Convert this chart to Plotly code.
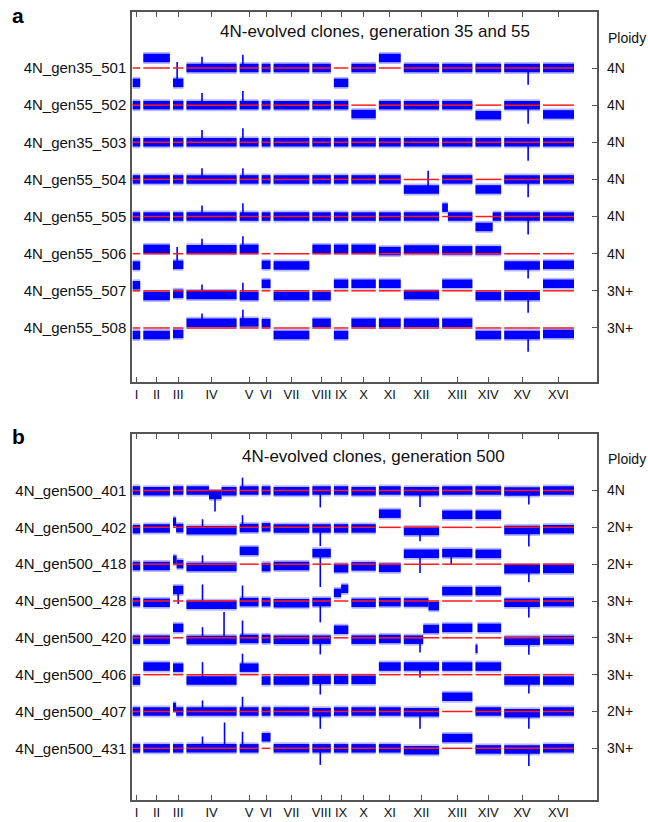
import plotly.graph_objects as go

W, H = 648, 822

chrom_names = ["I", "II", "III", "IV", "V", "VI", "VII", "VIII",
               "IX", "X", "XI", "XII", "XIII", "XIV", "XV", "XVI"]
chrom_len_kb = [230, 813, 317, 1532, 577, 270, 1091, 563,
                440, 746, 667, 1078, 924, 784, 1091, 948]
GAP_KB = 95

# ---------------- panel a ----------------
clones_a = ["4N_gen35_501", "4N_gen55_502", "4N_gen35_503", "4N_gen55_504",
            "4N_gen55_505", "4N_gen55_506", "4N_gen55_507", "4N_gen55_508"]
ploidy_a = ["4N", "4N", "4N", "4N", "4N", "4N", "3N+", "3N+"]
#            I      II     III    IV     V      VI     VII    VIII   IX     X      XI     XII    XIII   XIV    XV     XVI
levels_a = [
    [-0.40, 0.27, -0.40, 0.00, 0.00, 0.00, 0.00, 0.00, -0.40, 0.00, 0.27, 0.00, 0.00, 0.00, 0.00, 0.00],
    [0.00, 0.00, 0.00, 0.00, 0.00, 0.00, 0.00, 0.00, 0.00, -0.24, 0.00, 0.00, 0.00, -0.27, 0.00, -0.25],
    [0.00] * 16,
    [0.00, 0.00, 0.00, 0.00, 0.00, 0.00, 0.00, 0.00, 0.00, 0.00, 0.00, -0.27, 0.00, -0.27, 0.00, 0.00],
    [0.00] * 16,
    [-0.32, 0.13, -0.30, 0.12, 0.13, -0.30, -0.32, 0.13, 0.13, 0.13, 0.07, 0.11, 0.09, 0.09, -0.32, -0.30],
    [0.15, -0.14, -0.08, -0.11, -0.14, 0.19, -0.14, -0.14, 0.19, 0.19, 0.19, -0.11, 0.19, -0.14, -0.14, 0.19],
    [-0.19, -0.19, -0.16, 0.14, 0.15, 0.13, -0.19, 0.14, -0.19, 0.14, 0.14, 0.14, 0.14, -0.19, -0.19, -0.16],
]
# partial-chromosome segments: (row, chrom, start fraction, end fraction, level)
subsegs_a = [
    (4, 12, 0.00, 0.19, 0.24), (4, 12, 0.19, 1.00, 0.00),
    (4, 13, 0.00, 0.67, -0.28), (4, 13, 0.67, 1.00, 0.00),
]
# spikes: (row, chrom, fraction, height relative to segment level)
spikes_a = [
    (0, 2, 0.40, 0.56), (5, 2, 0.40, 0.48), (3, 11, 0.69, 0.50),
    (0, 14, 0.67, -0.45), (1, 14, 0.67, -0.50), (2, 14, 0.67, -0.50), (3, 14, 0.67, -0.48),
    (4, 14, 0.67, -0.48), (5, 14, 0.67, -0.35), (6, 14, 0.67, -0.45), (7, 14, 0.67, -0.45),
    (0, 4, 0.17, 0.36), (1, 4, 0.17, 0.38), (2, 4, 0.17, 0.38), (3, 4, 0.17, 0.30),
    (4, 4, 0.17, 0.36), (5, 4, 0.17, 0.34), (6, 4, 0.17, 0.36), (7, 4, 0.17, 0.34),
    (0, 3, 0.31, 0.30), (1, 3, 0.31, 0.33), (2, 3, 0.31, 0.33), (3, 3, 0.31, 0.30),
    (4, 3, 0.31, 0.30), (5, 3, 0.31, 0.28), (6, 3, 0.31, 0.28), (7, 3, 0.31, 0.25),
]

# ---------------- panel b ----------------
clones_b = ["4N_gen500_401", "4N_gen500_402", "4N_gen500_418", "4N_gen500_428",
            "4N_gen500_420", "4N_gen500_406", "4N_gen500_407", "4N_gen500_431"]
ploidy_b = ["4N", "2N+", "2N+", "3N+", "3N+", "3N+", "2N+", "3N+"]
levels_b = [
    [0.00, -0.02, 0.00, -0.02, 0.00, 0.00, -0.02, 0.00, 0.00, -0.02, 0.00, -0.02, 0.00, 0.00, -0.03, 0.00],
    [-0.05, -0.03, 0.00, -0.08, -0.02, 0.00, -0.03, -0.03, -0.03, -0.03, 0.37, -0.10, 0.34, 0.34, -0.07, -0.05],
    [-0.05, -0.05, 0.00, -0.08, 0.36, -0.08, -0.05, 0.30, -0.11, -0.06, -0.10, 0.28, 0.30, 0.28, -0.14, -0.13],
    [-0.03, -0.05, 0.30, -0.10, -0.03, -0.03, -0.06, -0.03, 0.28, -0.05, -0.03, -0.06, 0.27, 0.27, -0.05, -0.03],
    [-0.05, -0.05, 0.27, -0.06, -0.03, -0.03, -0.05, -0.05, 0.22, -0.05, -0.03, 0.00, 0.27, 0.27, -0.08, -0.06],
    [-0.16, 0.22, 0.19, -0.16, 0.19, -0.16, -0.16, -0.14, -0.14, -0.14, 0.22, 0.22, 0.22, 0.22, -0.16, -0.16],
    [0.00, 0.00, 0.00, 0.00, 0.00, 0.00, 0.00, -0.02, 0.00, 0.00, 0.00, -0.02, 0.40, 0.00, -0.05, 0.00],
    [0.00, 0.00, 0.00, 0.00, 0.00, 0.30, 0.00, 0.00, 0.00, 0.00, 0.00, -0.05, 0.28, -0.03, -0.03, 0.00],
]
subsegs_b = [
    (0, 3, 0.00, 0.45, 0.00), (0, 3, 0.45, 0.70, -0.12), (0, 3, 0.70, 1.00, -0.02),
    (1, 2, 0.00, 0.30, 0.15), (1, 2, 0.30, 1.00, -0.02),
    (2, 2, 0.00, 0.35, 0.12), (2, 2, 0.35, 1.00, 0.00),
    (3, 8, 0.00, 0.50, 0.22), (3, 8, 0.50, 1.00, 0.33),
    (3, 11, 0.00, 0.70, -0.04), (3, 11, 0.70, 1.00, -0.14),
    (4, 11, 0.00, 0.55, -0.05), (4, 11, 0.55, 1.00, 0.24),
    (4, 13, 0.00, 0.08, -0.30), (4, 13, 0.08, 1.00, 0.27),
    (6, 2, 0.00, 0.30, 0.12), (6, 2, 0.30, 1.00, 0.00),
]
spikes_b = [
    (0, 3, 0.57, -0.45), (0, 7, 0.43, -0.46), (0, 11, 0.46, -0.43), (0, 14, 0.69, -0.35), (0, 4, 0.15, 0.35),
    (1, 7, 0.43, -0.48), (1, 14, 0.69, -0.45), (1, 4, 0.15, 0.35), (1, 3, 0.32, 0.30), (1, 11, 0.46, -0.28),
    (2, 7, 0.43, -0.92), (2, 11, 0.46, -0.52), (2, 14, 0.69, -0.35), (2, 3, 0.32, 0.32), (2, 12, 0.30, -0.30),
    (3, 3, 0.32, 0.55), (3, 4, 0.15, 0.45), (3, 7, 0.43, -0.55), (3, 14, 0.69, -0.40), (3, 2, 0.50, -0.38),
    (4, 3, 0.75, 0.76), (4, 3, 0.32, 0.35), (4, 4, 0.15, 0.50), (4, 7, 0.43, -0.40), (4, 14, 0.69, -0.38),
    (4, 11, 0.46, -0.35),
    (5, 3, 0.32, 0.50), (5, 4, 0.15, 0.38), (5, 7, 0.43, -0.40), (5, 14, 0.69, -0.35), (5, 11, 0.46, -0.30),
    (6, 4, 0.15, 0.40), (6, 7, 0.43, -0.45), (6, 11, 0.46, -0.45), (6, 14, 0.69, -0.42), (6, 3, 0.32, 0.30),
    (7, 3, 0.76, 0.70), (7, 3, 0.32, 0.32), (7, 4, 0.15, 0.45), (7, 7, 0.43, -0.45), (7, 14, 0.69, -0.45),
]

# ---------------- geometry helpers ----------------
chrom_start = []
pos = 0
for L in chrom_len_kb:
    chrom_start.append(pos)
    pos += L + GAP_KB
chrom_mid = [s + L / 2 for s, L in zip(chrom_start, chrom_len_kb)]

BLUE = "#0000ff"
RED = "#ff1a1a"
FRAME = "#555555"
FONT = "Liberation Sans, Arial, sans-serif"

fig = go.Figure()


def add_panel(levels, subsegs, spikes, xa, ya, ya_right):
    sub_keys = {(r, c) for r, c, *_ in subsegs}
    bx, by = [], []
    for r, row in enumerate(levels):
        base = -r
        for c, lev in enumerate(row):
            if (r, c) in sub_keys:
                continue
            s, L = chrom_start[c], chrom_len_kb[c]
            bx += [s, s + L, None]
            by += [base + lev, base + lev, None]
    for r, c, f0, f1, lev in subsegs:
        s, L = chrom_start[c], chrom_len_kb[c]
        bx += [s + f0 * L, s + f1 * L, None]
        by += [-r + lev, -r + lev, None]

    def seg_level(r, c, f):
        for rr, cc, f0, f1, lev in subsegs:
            if rr == r and cc == c and f0 <= f <= f1:
                return lev
        return levels[r][c]

    sx, sy = [], []
    for r, c, f, h in spikes:
        lev = seg_level(r, c, f)
        x = chrom_start[c] + f * chrom_len_kb[c]
        sx += [x, x, None]
        sy += [-r + lev, -r + lev + h, None]

    rx, ry = [], []
    for r in range(len(levels)):
        for c in range(len(chrom_len_kb)):
            s, L = chrom_start[c], chrom_len_kb[c]
            rx += [s, s + L, None]
            ry += [-r, -r, None]

    common = dict(xaxis=xa, mode="lines", hoverinfo="skip", showlegend=False)
    fig.add_trace(go.Scatter(x=bx, y=by, yaxis=ya, line=dict(color="rgba(0,0,255,0.28)", width=12), **common))
    fig.add_trace(go.Scatter(x=sx, y=sy, yaxis=ya, line=dict(color=BLUE, width=1.6), **common))
    fig.add_trace(go.Scatter(x=bx, y=by, yaxis=ya, line=dict(color=BLUE, width=8.5), **common))
    # red reference lines drawn on the (identical-range) right-hand ploidy axis
    fig.add_trace(go.Scatter(x=rx, y=ry, yaxis=ya_right, line=dict(color=RED, width=1.5), **common))


add_panel(levels_a, subsegs_a, spikes_a, "x", "y", "y2")
add_panel(levels_b, subsegs_b, spikes_b, "x2", "y3", "y4")

xl, xr = 132 / W, 597 / W
x_range = [-21, 14199]

def py(p):
    return 1 - p / H

xaxis_common = dict(range=x_range, tickvals=chrom_mid, ticktext=chrom_names,
                    ticks="inside", ticklen=5, tickcolor=FRAME, tickwidth=1,
                    showline=True, linecolor=FRAME, linewidth=1.5, mirror="ticks",
                    showgrid=False, zeroline=False, fixedrange=True,
                    tickfont=dict(family=FONT, size=13, color="#111"),
                    ticklabelstandoff=0)
row_vals = [-i for i in range(8)]

def yleft(rng, dom, labels, anchor):
    return dict(domain=dom, range=rng, anchor=anchor, tickvals=row_vals, ticktext=labels,
                ticks="", showline=True, linecolor=FRAME, linewidth=1.5, mirror=True,
                showgrid=False, zeroline=False, fixedrange=True,
                tickfont=dict(family=FONT, size=15, color="#111"), ticklabelstandoff=1)

def yright(rng, labels, over, anchor):
    return dict(range=rng, overlaying=over, side="right", anchor=anchor, tickvals=row_vals,
                ticktext=labels, ticks="inside", ticklen=5, tickcolor=FRAME,
                showline=False, showgrid=False, zeroline=False, fixedrange=True,
                tickfont=dict(family=FONT, size=14, color="#111"), ticklabelstandoff=9)

rng_a = [-8.455, 1.508]
rng_b = [-8.403, 1.534]

fig.update_layout(
    width=W, height=H, margin=dict(l=0, r=0, t=0, b=0),
    paper_bgcolor="white", plot_bgcolor="white",
    xaxis=dict(domain=[xl, xr], anchor="y", **xaxis_common),
    xaxis2=dict(domain=[xl, xr], anchor="y3", **xaxis_common),
    yaxis=yleft(rng_a, [py(382), py(12)], clones_a, "x"),
    yaxis2=yright(rng_a, ploidy_a, "y", "x"),
    yaxis3=yleft(rng_b, [py(800), py(434)], clones_b, "x2"),
    yaxis4=yright(rng_b, ploidy_b, "y3", "x2"),
    annotations=[
        dict(text="<b>a</b>", x=10 / W, y=py(15), xref="paper", yref="paper",
             showarrow=False, xanchor="left", yanchor="middle",
             font=dict(family=FONT, size=21, color="black")),
        dict(text="<b>b</b>", x=10 / W, y=py(437), xref="paper", yref="paper",
             showarrow=False, xanchor="left", yanchor="middle",
             font=dict(family=FONT, size=21, color="black")),
        dict(text="4N-evolved clones, generation 35 and 55", x=375 / W, y=py(31),
             xref="paper", yref="paper", showarrow=False, xanchor="center", yanchor="middle",
             font=dict(family=FONT, size=17, color="#111")),
        dict(text="4N-evolved clones, generation 500", x=373 / W, y=py(456),
             xref="paper", yref="paper", showarrow=False, xanchor="center", yanchor="middle",
             font=dict(family=FONT, size=17, color="#111")),
        dict(text="Ploidy", x=606 / W, y=py(38), xref="paper", yref="paper",
             showarrow=False, xanchor="left", yanchor="middle",
             font=dict(family=FONT, size=14, color="#111")),
        dict(text="Ploidy", x=606 / W, y=py(459), xref="paper", yref="paper",
             showarrow=False, xanchor="left", yanchor="middle",
             font=dict(family=FONT, size=14, color="#111")),
    ],
)

fig.write_html("out.html", config={"displayModeBar": False},
               post_script="document.body.style.margin='0';document.body.style.overflow='hidden';")
